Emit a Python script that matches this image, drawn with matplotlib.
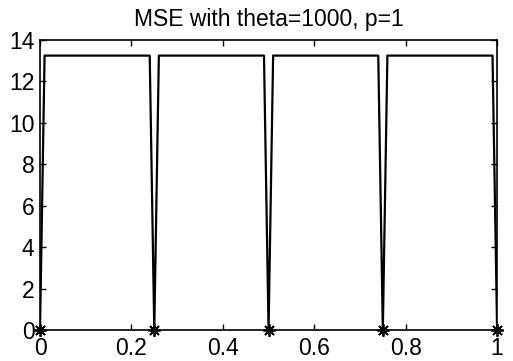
import numpy as np
import matplotlib
matplotlib.use("Agg")
import matplotlib.pyplot as plt

# ── DATA ──────────────────────────────────────────────────────────────────────
# MSE sampled on the grid; zero at the knots, flat plateau in between
x_grid = [0.00, 0.01, 0.24, 0.25, 0.26, 0.49, 0.50, 0.51,
          0.74, 0.75, 0.76, 0.99, 1.00]
mse = [0.0, 13.25, 13.25, 0.0, 13.25, 13.25, 0.0, 13.25,
       13.25, 0.0, 13.25, 13.25, 0.0]

knots = [0.0, 0.25, 0.5, 0.75, 1.0]
knot_err = [0.0, 0.0, 0.0, 0.0, 0.0]

x_ticks = [0, 0.2, 0.4, 0.6, 0.8, 1]
x_ticklabels = ["0", "0.2", "0.4", "0.6", "0.8", "1"]
y_ticks = [0, 2, 4, 6, 8, 10, 12, 14]

# ── STYLE ─────────────────────────────────────────────────────────────────────
plt.rcParams["font.family"] = ["Liberation Sans", "DejaVu Sans"]
plt.rcParams["font.size"] = 16.5

fig = plt.figure(figsize=(5.13, 3.61), dpi=100)
ax = fig.add_axes([0.078, 0.086, 0.891, 0.803])

ax.plot(x_grid, mse, color="black", linewidth=1.6)
ax.plot(knots, knot_err, linestyle="none", marker=(8, 2, 0),
        markersize=9, markeredgewidth=1.3, color="black", clip_on=False)

ax.set_xlim(0, 1)
ax.set_ylim(0, 14)
ax.set_xticks(x_ticks)
ax.set_xticklabels(x_ticklabels)
ax.set_yticks(y_ticks)

ax.tick_params(direction="in", length=4, width=1.0, top=True, right=True,
               labelsize=16.5)
ax.tick_params(axis="x", pad=5)
ax.tick_params(axis="y", pad=4)
for sp in ax.spines.values():
    sp.set_linewidth(1.2)

ax.set_title("MSE with theta=1000, p=1", fontsize=16.5, pad=10)

fig.savefig("out.png", dpi=100)
